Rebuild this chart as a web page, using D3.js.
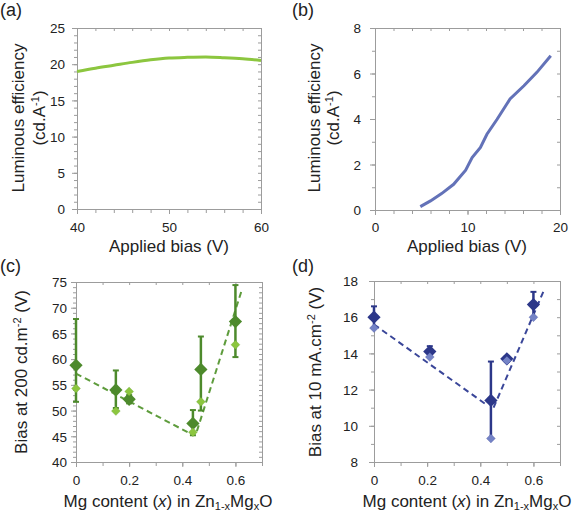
<!DOCTYPE html>
<html><head><meta charset="utf-8">
<script src="https://cdn.jsdelivr.net/npm/d3@7"></script>
<style>body{margin:0;background:#fff}svg{display:block}text{font-family:"Liberation Sans",Arial,sans-serif;fill:#222}</style>
</head><body><svg id="c" width="578" height="515"></svg>
<script>
// ---- data ----
const aBias = [40,42,44,46,48,50,52,54,56,58,60];
const aEff  = [19.0,19.45,19.85,20.25,20.6,20.85,20.95,21.0,20.9,20.75,20.5];
const bBias = [4.9,6.0,7.2,8.5,9.8,10.5,11.4,12.1,13.2,14.6,16.1,17.5,19.0];
const bEff  = [0.15,0.40,0.72,1.13,1.75,2.3,2.75,3.33,3.99,4.88,5.46,6.05,6.78];
const cMgDark = [0,0.15,0.2,0.44,0.47,0.6];
const cBiasDark = [58.8,54.0,52.2,47.5,58.0,67.3];
const cErrHigh = [67.8,57.8,53.0,50.1,64.4,74.4];
const cErrLow  = [51.7,50.5,51.4,45.2,50.0,60.4];
const cMgLight = [0,0.15,0.2,0.44,0.47,0.6];
const cBiasLight = [54.3,49.9,53.7,45.8,51.7,62.8];
const cFit1 = [[0,57.2],[0.42,45.8]];
const cFit2 = [[0.455,46.0],[0.625,73.6]];
const dMgDark = [0,0.21,0.44,0.5,0.6];
const dBiasDark = [16.0,14.1,11.4,13.7,16.7];
const dErrHigh = [16.6,14.4,13.55,13.85,17.4];
const dErrLow  = [15.4,13.8,9.3,13.55,16.0];
const dMgLight = [0,0.21,0.44,0.5,0.6];
const dBiasLight = [15.4,13.8,9.3,13.6,16.0];
const dFit1 = [[0,15.6],[0.42,11.2]];
const dFit2 = [[0.45,11.0],[0.64,17.5]];

const svg = d3.select("#c");
const FRAME = "#9c9c9c";

function range(a,b,s){const r=[];for(let v=a;v<=b+1e-9;v+=s)r.push(+v.toFixed(4));return r;}

function panel(o){
  const x = d3.scaleLinear().domain(o.xd).range([o.x0,o.x1]);
  const y = d3.scaleLinear().domain(o.yd).range([o.y1,o.y0]);
  const g = svg.append("g");
  const fmt = o.xfmt || (d=>d);
  const ax = (axis, tr) => {const s=g.append("g").attr("transform",tr).call(axis);s.select(".domain").remove();s.selectAll("line").attr("stroke",FRAME);return s;};
  ax(d3.axisLeft(y).tickValues(o.yMinor).tickSize(3).tickFormat(""), `translate(${o.x0},0)`);
  ax(d3.axisRight(y).tickValues(o.yMinor).tickSize(-3).tickFormat(""), `translate(${o.x1},0)`);
  ax(d3.axisTop(x).tickValues(o.xMinor).tickSize(-3).tickFormat(""), `translate(0,${o.y0})`);
  ax(d3.axisBottom(x).tickValues(o.xMinor).tickSize(4).tickFormat(""), `translate(0,${o.y1})`);
  const la = ax(d3.axisLeft(y).tickValues(o.yMajor).tickSize(5).tickPadding(0).tickFormat(d=>d), `translate(${o.x0},0)`);
  la.selectAll("text").attr("x", o.ylabX - o.x0).attr("dy","0.35em").style("font-size","13.5px").style("font-family","Liberation Sans, Arial").attr("fill","#222");
  const ba = ax(d3.axisBottom(x).tickValues(o.xMajor).tickSize(5).tickFormat(fmt), `translate(0,${o.y1})`);
  ba.selectAll("text").attr("y", o.xlabY - o.y1).attr("dy",0).style("font-size","13.5px").style("font-family","Liberation Sans, Arial").attr("fill","#222");
  g.append("rect").attr("x",o.x0+0.5).attr("y",o.y0+0.5).attr("width",o.x1-o.x0).attr("height",o.y1-o.y0)
    .attr("fill","none").attr("stroke",FRAME).attr("stroke-width",1);
  return {x,y,g};
}

function ytitle(cx, cy, parts){
  const t = svg.append("text").attr("transform",`translate(${cx},${cy}) rotate(-90)`).attr("text-anchor","middle").style("font-size","17px");
  parts.forEach(p=>{
    const ts=t.append("tspan").text(p.t);
    if(p.sup){ts.attr("baseline-shift","super").style("font-size","11px");}
  });
}

// ---- panel a ----
const pa = panel({x0:77,x1:261,y0:28,y1:209,xd:[40,60],yd:[0,25],xMajor:[40,50,60],xMinor:range(40,60,2),yMajor:range(0,25,5),yMinor:range(0,25,1),ylabX:65,xlabY:232});
pa.g.append("path").datum(aBias.map((v,i)=>[v,aEff[i]])).attr("fill","none").attr("stroke","#8cc63f").attr("stroke-width",3)
  .attr("d",d3.line().curve(d3.curveMonotoneX).x(d=>pa.x(d[0])).y(d=>pa.y(d[1])));
// ---- panel b ----
const pb = panel({x0:375,x1:560,y0:28,y1:210,xd:[0,20],yd:[0,8],xMajor:[0,10,20],xMinor:range(0,20,2),yMajor:range(0,8,2),yMinor:range(0,8,1),ylabX:361,xlabY:232});
pb.g.append("path").datum(bBias.map((v,i)=>[v,bEff[i]])).attr("fill","none").attr("stroke","#6372b8").attr("stroke-width",3)
  .attr("d",d3.line().x(d=>pb.x(d[0])).y(d=>pb.y(d[1])));

function scatter(p, mD, vD, eHi, eLo, mL, vL, fits, cDark, cLight, cDash){
  const ln = d3.line().x(d=>p.x(d[0])).y(d=>p.y(d[1]));
  fits.forEach(f=>p.g.append("path").attr("d",ln(f)).attr("fill","none").attr("stroke",cDash).attr("stroke-width",2).attr("stroke-dasharray","6,4"));
  mD.forEach((m,i)=>{
    const xx=p.x(m), yt=p.y(eHi[i]), yb=p.y(eLo[i]);
    p.g.append("line").attr("x1",xx).attr("x2",xx).attr("y1",yt).attr("y2",yb).attr("stroke",cDark).attr("stroke-width",2.5);
    [yt,yb].forEach(yy=>p.g.append("line").attr("x1",xx-3).attr("x2",xx+3).attr("y1",yy).attr("y2",yy).attr("stroke",cDark).attr("stroke-width",2));
  });
  const big = d3.symbol().type(d3.symbolSquare).size(88)();
  const small = d3.symbol().type(d3.symbolSquare).size(40)();
  mD.forEach((m,i)=>p.g.append("path").attr("d",big).attr("transform",`translate(${p.x(m)},${p.y(vD[i])}) rotate(45)`).attr("fill",cDark));
  mL.forEach((m,i)=>p.g.append("path").attr("d",small).attr("transform",`translate(${p.x(m)},${p.y(vL[i])}) rotate(45)`).attr("fill",cLight).attr("stroke",cDark).attr("stroke-opacity",0.35).attr("stroke-width",0.6));
}
const fmt1 = d=> d===0?"0":d.toFixed(1);
// ---- panel c ----
const pc = panel({x0:76,x1:262,y0:282,y1:462,xd:[0,0.7],yd:[40,75],xMajor:[0,0.2,0.4,0.6],xMinor:range(0,0.7,0.1),yMajor:range(40,75,5),yMinor:range(40,75,1),ylabX:67,xlabY:485,xfmt:fmt1});
scatter(pc,cMgDark,cBiasDark,cErrHigh,cErrLow,cMgLight,cBiasLight,[cFit1,cFit2],"#4d8a2c","#8cc63f","#5e9c3c");
// ---- panel d ----
const pd = panel({x0:374,x1:560,y0:281,y1:462,xd:[0,0.7],yd:[8,18],xMajor:[0,0.2,0.4,0.6],xMinor:range(0,0.7,0.1),yMajor:range(8,18,2),yMinor:range(8,18,1),ylabX:358,xlabY:485,xfmt:fmt1});
scatter(pd,dMgDark,dBiasDark,dErrHigh,dErrLow,dMgLight,dBiasLight,[dFit1,dFit2],"#2c3789","#7483c6","#3a4699");

// ---- titles ----
ytitle(24,118,[{t:"Luminous efficiency"}]);
ytitle(45,118,[{t:"(cd.A"},{t:"-1",sup:true},{t:")"}]);
ytitle(320,118,[{t:"Luminous efficiency"}]);
ytitle(339,118,[{t:"(cd.A"},{t:"-1",sup:true},{t:")"}]);
ytitle(27,372,[{t:"Bias at 200 cd.m"},{t:"-2",sup:true},{t:" (V)"}]);
ytitle(321,372,[{t:"Bias at 10 mA.cm"},{t:"-2",sup:true},{t:" (V)"}]);

function xtitle(cx, y, txt){svg.append("text").attr("x",cx).attr("y",y).attr("text-anchor","middle").style("font-size","17px").text(txt);}
xtitle(169,252,"Applied bias (V)");
xtitle(467,252,"Applied bias (V)");
function mgTitle(cx,y){
  const t=svg.append("text").attr("x",cx).attr("y",y).attr("text-anchor","middle").style("font-size","17px");
  t.append("tspan").text("Mg content (");
  t.append("tspan").text("x").style("font-style","italic");
  t.append("tspan").text(") in Zn");
  t.append("tspan").text("1-x").attr("dy",3).style("font-size","11px");
  t.append("tspan").text("Mg").attr("dy",-3);
  t.append("tspan").text("x").attr("dy",3).style("font-size","11px");
  t.append("tspan").text("O").attr("dy",-3);
}
mgTitle(168,507);
mgTitle(467,507);
[["(a)",0,16],["(b)",292,16],["(c)",0,272],["(d)",292,272]].forEach(([s,x,y])=>svg.append("text").attr("x",x).attr("y",y).style("font-size","18px").text(s));
</script></body></html>
